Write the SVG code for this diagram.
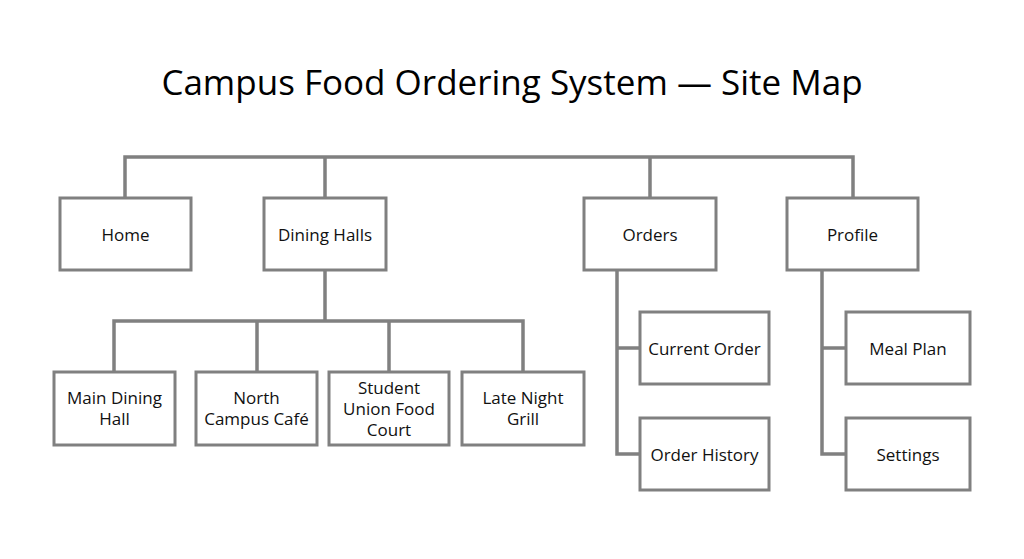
<svg xmlns="http://www.w3.org/2000/svg" width="1024" height="559" viewBox="0 0 1024 559">
<style>
.box{fill:#fff;stroke:#808080;stroke-width:3}
.lbl{font-family:"Open Sans",sans-serif;font-size:17px;fill:#111;text-anchor:middle}
.conn{fill:none;stroke:#808080;stroke-width:3.5}
.title{font-family:"Open Sans",sans-serif;font-size:35px;fill:#000;text-anchor:middle}
</style>
<rect width="1024" height="559" fill="#fff"/>
<text class="title" x="512" y="95">Campus Food Ordering System — Site Map</text>
<g id="connectors">
<path class="conn" d="M125 198V157H853V198M325 157V198M650 157V198"/>
<path class="conn" d="M325 270V321M114 372V321H523V372M257 321V372M389 321V372"/>
<path class="conn" d="M617 270V454H640M617 348H640"/>
<path class="conn" d="M822 270V454H846M822 348H846"/>
</g>
<g id="home"><rect class="box" x="60" y="198" width="131" height="72"/><text class="lbl" x="125.5" y="241">Home</text></g>
<g id="dining-halls"><rect class="box" x="264" y="198" width="122" height="72"/><text class="lbl" x="325" y="241">Dining Halls</text></g>
<g id="orders"><rect class="box" x="584" y="198" width="132" height="72"/><text class="lbl" x="650" y="241">Orders</text></g>
<g id="profile"><rect class="box" x="787" y="198" width="131" height="72"/><text class="lbl" x="852.5" y="241">Profile</text></g>
<g id="main-dining-hall"><rect class="box" x="54" y="372" width="121" height="73"/><text class="lbl" x="114.5" y="404">Main Dining</text><text class="lbl" x="114.5" y="425">Hall</text></g>
<g id="north-campus-cafe"><rect class="box" x="196" y="372" width="121" height="73"/><text class="lbl" x="256.5" y="404">North</text><text class="lbl" x="256.5" y="425">Campus Café</text></g>
<g id="student-union"><rect class="box" x="329" y="372" width="120" height="73"/><text class="lbl" x="389" y="394">Student</text><text class="lbl" x="389" y="415">Union Food</text><text class="lbl" x="389" y="436">Court</text></g>
<g id="late-night-grill"><rect class="box" x="462" y="372" width="122" height="73"/><text class="lbl" x="523" y="404">Late Night</text><text class="lbl" x="523" y="425">Grill</text></g>
<g id="current-order"><rect class="box" x="640" y="312" width="129" height="72"/><text class="lbl" x="704.5" y="355">Current Order</text></g>
<g id="order-history"><rect class="box" x="640" y="418" width="129" height="72"/><text class="lbl" x="704.5" y="461">Order History</text></g>
<g id="meal-plan"><rect class="box" x="846" y="312" width="124" height="72"/><text class="lbl" x="908" y="355">Meal Plan</text></g>
<g id="settings"><rect class="box" x="846" y="418" width="124" height="72"/><text class="lbl" x="908" y="461">Settings</text></g>
</svg>
